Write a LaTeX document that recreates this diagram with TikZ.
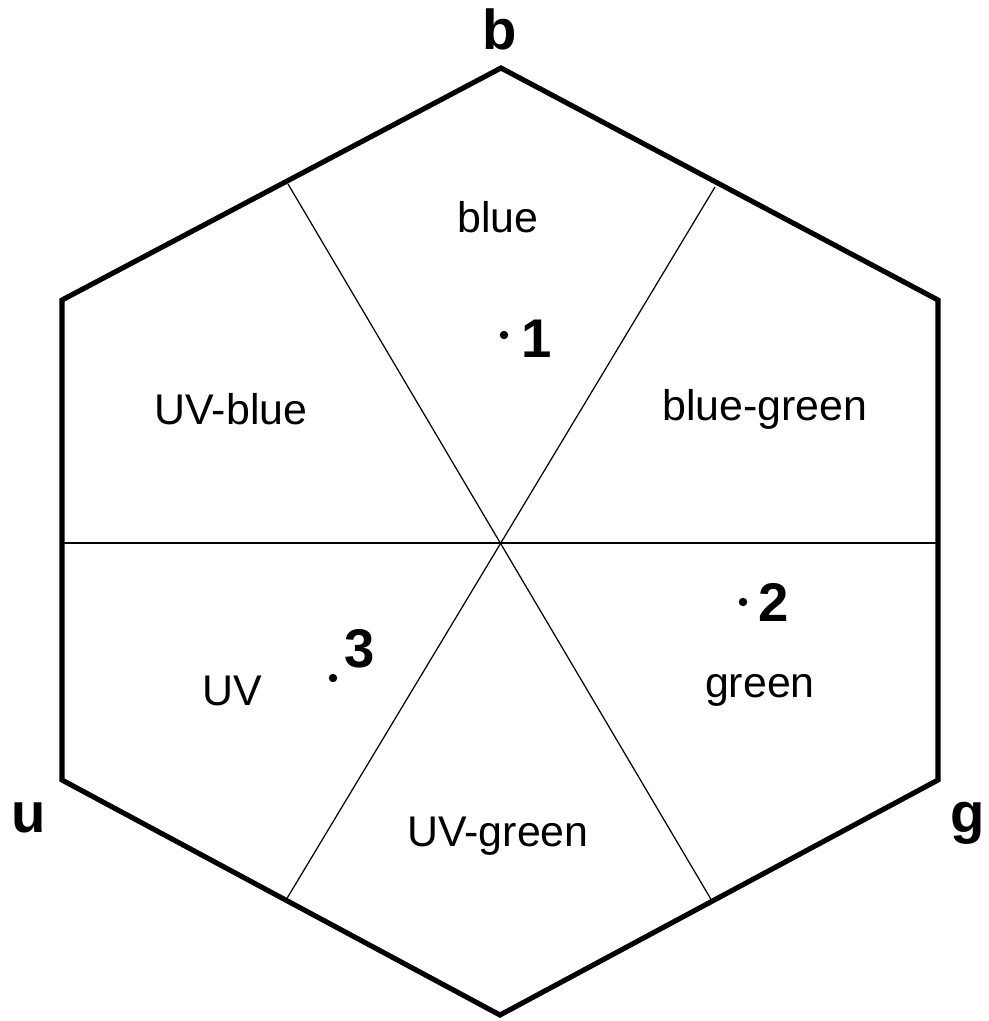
\documentclass[tikz,border=0pt]{standalone}
\usepackage{fontspec}
\setmainfont{Liberation Sans}
\begin{document}
\begin{tikzpicture}[x=0.01cm,y=-0.01cm,
  hexline/.style={line width=1.45pt,line join=miter},
  divline/.style={line width=0.35pt},
  region/.style={font=\fontsize{12.2pt}{14pt}\selectfont,anchor=base,inner sep=0pt},
  corner/.style={font=\fontsize{16pt}{18pt}\selectfont\bfseries,anchor=base,inner sep=0pt},
  ptlabel/.style={font=\fontsize{15.5pt}{18pt}\selectfont\bfseries,anchor=base west,inner sep=0pt},
  ptdot/.style={circle,fill=black,inner sep=0pt,minimum size=2.4pt}]
\useasboundingbox (0,0) rectangle (989,1021);
% hexagon vertices
\coordinate (T) at (501,68);
\coordinate (UR) at (938,300);
\coordinate (LR) at (938,780);
\coordinate (B) at (500,1015);
\coordinate (LL) at (62,780);
\coordinate (UL) at (62,300);
\coordinate (C) at (500,543);
% edge points for dividers
\coordinate (eUL) at (288,184);
\coordinate (eUR) at (715,187);
\coordinate (eLL) at (286,900);
\coordinate (eLR) at (712,901);
\coordinate (eL) at (62,543);
\coordinate (eR) at (938,543);
\draw[hexline] (T) -- (UR) -- (LR) -- (B) -- (LL) -- (UL) -- cycle;
\draw[divline] (eL) -- (eR);
\draw[divline] (eUL) -- (eLR);
\draw[divline] (eUR) -- (eLL);
% corner labels
\node[corner] (lb) at (500,50) {b};
\node[corner] (lu) at (29,832) {u};
\node[corner] (lg) at (968,832) {g};
% region labels
\node[region] (rblue) at (498,232) {blue};
\node[region] (ruvblue) at (231,424) {UV-blue};
\node[region] (rbg) at (765,420) {blue-green};
\node[region] (ruv) at (232,705) {UV};
\node[region] (rgreen) at (760,697) {green};
\node[region] (ruvg) at (498,846) {UV-green};
% points
\node[ptdot] (p1) at (504,335) {};
\node[ptlabel] (l1) at (521,357) {1};
\node[ptdot] (p2) at (743,602) {};
\node[ptlabel] (l2) at (758,621) {2};
\node[ptdot] (p3) at (333,678) {};
\node[ptlabel] (l3) at (344,667) {3};
\end{tikzpicture}
\end{document}
